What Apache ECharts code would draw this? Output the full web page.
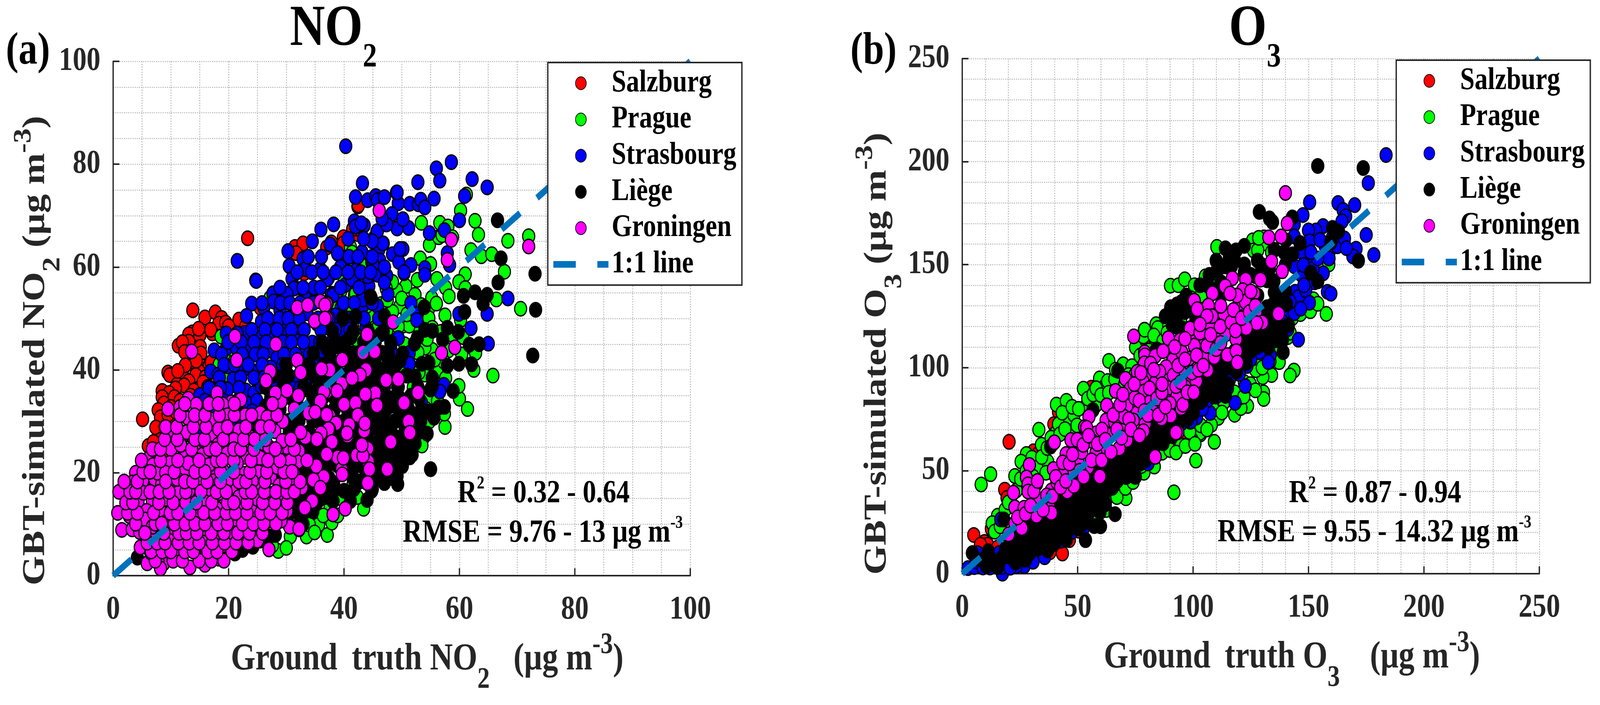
<!DOCTYPE html>
<html><head><meta charset="utf-8">
<script src="https://cdn.jsdelivr.net/npm/echarts@6/dist/echarts.min.js"></script>
<style>html,body{margin:0;padding:0;background:#fff;overflow:hidden}#c{width:4907px;height:1804px;transform-origin:0 0}</style></head>
<body><div id="c"></div>
<script>
const cities=['Salzburg','Prague','Strasbourg','Liège','Groningen'];
const cityColors=['#ff0000','#00ff00','#0000ff','#000000','#ff00ff'];
const lineName='1:1 line';

const salzburgNO2=[[13.8,51.6],[15.9,50.2],[17.7,51.2],[18.8,50.1],[18.3,49],[19.5,49.2],[17.2,47.1],[21.8,49.8],[13.7,47.3],[13.1,46.9],[15,46.7],[11.3,44.7],[13.1,45.5],[15.1,44.5],[15.2,43.2],[13.3,42.2],[13.7,41.7],[15.4,40.7],[16.6,40.7],[14.9,39.7],[14.3,39],[9.5,39.5],[9.8,39],[12,39.5],[17.5,39],[16,38.6],[13.1,37.8],[11.1,37.2],[12.3,37],[10.8,36.4],[8.5,35.9],[9.7,35.5],[8.5,34.7],[8.8,33.5],[10.6,34.7],[7.8,32.2],[8.2,30.8],[5.1,30.4],[7.4,28.8],[10,30],[10.8,30.4],[9.7,27.7],[8.2,26.4],[6.1,25.2],[11.4,28.1],[3,14.3],[18.6,37],[25.5,52.1],[24,47],[6.2,22.7],[42.4,71.8],[41.8,67.4],[42.4,66.4],[39.9,65.6],[39.8,64.5],[45.2,65.6],[37.8,64.8],[40,61.7],[23.3,65.6],[31.5,63.9],[32.9,64.6],[31.7,62.7],[37,63.8],[39.9,65.8],[39.9,64.6],[42.5,72],[42.5,67.4],[41.5,67.4],[45.3,65.4],[39.9,61.5],[33.1,58.8],[16.9,47.8],[14.8,48],[12,45.4],[12.4,43.5],[14.4,41.8],[12.5,40.9],[11.2,39.8],[14,36],[15.6,37.6],[16.4,36.7],[13.4,35],[11.6,34],[12,32.5],[10,32.8],[9.5,31.3],[10.9,31.8],[12.1,30.2],[9,28.9],[11,26.4],[8.8,24],[7,26],[9.7,25.9],[17,41.5],[18.7,40.5],[20,48.5],[23,48.5],[22.6,45],[19.8,46.5]];

const pragueNO2=[[61.2,74.1],[60.2,71],[53.4,68.6],[56.6,68.6],[58,67.9],[62.7,69],[63.3,66.3],[68.4,65.1],[72,66],[54.8,64.3],[56.4,65.8],[57,66.2],[58.8,65.8],[62,63.3],[63.8,62.1],[65.6,62.5],[67.8,59.1],[66.4,53.7],[70.6,51.9],[53.2,61.7],[55,60.6],[41.1,63.9],[41.4,62.8],[41.2,60.2],[43,60.4],[61,58.6],[59.9,57.1],[56.1,57.7],[57.6,56],[58.2,54.3],[61,55.9],[52.7,57.5],[50.7,56.3],[49.1,55.5],[48.4,57.1],[52.3,54.6],[55.2,54],[54.6,51.7],[54.7,50.1],[49.7,52.4],[57.5,50.6],[60.2,49.7],[45.3,50.1],[44.7,50.9],[48.4,51.3],[50.2,48.6],[51.3,48.6],[55.3,48.2],[62.3,44.3],[62.8,43.3],[55.3,43.9],[54,44.3],[56.5,39.8],[62.5,40],[65.8,38.9],[54,39.1],[60,34.4],[61.4,32.4],[57.5,28.9],[52,27.1],[53.8,26.9],[53.5,25.3],[54.8,30],[57.4,31.5],[41.5,48.6],[42.4,46.6],[46.7,42.8],[48.4,43.1],[46.8,22.2],[49.3,21.8],[54.8,34.6],[41.8,54.4],[47.3,55.9],[46.4,52.8],[27.2,54],[18.7,46.5],[20.3,41.5],[20,39],[16.3,36.2],[11.8,29.7],[13.4,26.2],[14,24.6],[7.8,24.1],[28.6,4.8],[33.5,7.6],[37.1,7.9],[35.6,9.9],[37.9,10.3],[30.7,7.6],[26.1,7.2],[43.4,13],[42.3,15.3],[39.7,14.9],[37.6,13.4],[34.8,12.6],[42,54.8],[41.1,52.1],[41.4,47.9],[44.3,50.6],[42.8,21.5],[47.5,53.6],[46.3,50],[50,53.9],[53.4,52.6],[56,52.9],[50.9,50.8],[53.2,47.6],[56.8,47.4],[58.8,46.8],[60.6,46.4],[49.4,48.4],[47.4,47.6],[45.4,46.8],[44,45],[50.5,45],[54.4,46],[58.1,43.8],[60.4,43],[57.3,41.6],[52.8,43.4],[55.7,42],[50,41],[53,39.5],[57.6,38.4],[59.9,36.9],[52,36.6],[56.2,34],[51,33],[54.2,32.4],[52.8,29],[50.6,28.6],[49.1,24.3],[46.9,24.6],[44,23.7],[44.5,19.3],[46.3,18.9],[41.6,18],[44.8,16.5],[36.4,11.7],[34,9.9],[32.2,9],[30,5.4],[27.6,5.9],[34.9,8.4],[38.9,11.7],[20,44],[18.4,41.1],[19.2,43],[16.5,30],[14.7,29.4],[13,24.7],[12.2,27.4],[40,58],[39.4,55.2],[38.4,52.6],[36.5,45],[42,42.7],[44.4,40],[46,48.6],[42.1,46],[43.9,52.4]];

const strasbourgNO2=[[43.2,76.3],[42,73.6],[44.1,73],[45.5,73.8],[45.8,73],[47,73.6],[49.1,74.5],[49.4,72.4],[51.4,72.3],[52.9,72.2],[53.3,73.1],[54,71.6],[55.6,73.3],[52.8,76.5],[56,79.2],[56.6,76.8],[58.6,80.4],[62.2,77.1],[64.8,75.5],[60.9,73.8],[60,69.1],[54.8,66.6],[57.4,67.2],[48.3,70.3],[50.2,69.3],[47.3,68.3],[49.2,67.5],[51.2,67.6],[41.8,68.9],[42,67.9],[43.5,68.1],[43,68.5],[45.7,66.9],[46.8,64.6],[38.2,68.3],[46,63.3],[43.1,62.9],[48.4,62.5],[49.7,63.5],[50.2,63.5],[49.5,61],[51.6,60.4],[50.4,58.8],[54,59.8],[54,58.5],[44.8,61],[42.1,59.4],[44.1,58.6],[45.8,58.5],[47.4,58.3],[41.2,57.9],[39.5,59.8],[38.9,62.6],[37.6,64.3],[40.2,56.5],[37.3,57.9],[43.1,55.2],[44.3,56.3],[47.6,54.7],[43.2,52.4],[45.8,52.4],[51.6,53],[52.6,50.9],[52.6,49.7],[57.9,62.7],[58.3,60.4],[59.9,50.9],[64.8,50.9],[68.4,53.9],[62,48.1],[65,45.1],[43.8,48.2],[49.4,46.2],[48.1,44.3],[51.3,43.3],[51.3,41.2],[57.3,37.1],[56.6,35.8],[53.4,33.7],[48.4,22.6],[38,54.8],[39.5,52.1],[37.6,48.2],[36.9,50.5],[39.2,45.1],[48.4,42.8],[45.3,42],[40.3,83.5],[21.5,61.2],[24.7,57.4],[30.3,63.1],[34.5,65],[36,67.3],[32.9,61.6],[30.5,60.2],[37.6,64.4],[38.9,62.7],[33.3,59.6],[35.9,59.6],[37.1,58],[39.4,60],[31,57.7],[31.5,55.9],[34.7,55.7],[37.8,54.6],[27.7,54.9],[30,54.6],[41.3,57.8],[44.1,58.2],[46.2,61.3],[46.7,64.6],[45.8,67],[49.7,63.5],[50.4,59],[47.4,68.3],[50.2,69.3],[49.2,74.5],[24.8,57.3],[24,52.9],[23.1,50.5],[27.7,54.8],[27.8,53.3],[28.9,51.6],[31.3,55.8],[30.1,54.8],[33.2,54.1],[34.8,56],[37.1,57.6],[41.4,57.6],[38.1,54.5],[43.3,53.7],[25.7,49.4],[27.6,48.6],[30.1,48.3],[29,47.1],[31.9,46.3],[34.5,45.3],[36.8,48.3],[22.8,47.2],[19.6,47.1],[17.5,43.8],[19.6,44.2],[21.4,44.2],[23.8,44.7],[25,43.4],[27.6,43.6],[28.4,42.4],[31,42.4],[33.3,43.2],[34.9,43],[39.4,44.4],[19.9,40.7],[16.9,39.7],[18.2,39.1],[20.8,38.2],[22.6,40.1],[24.9,39.7],[27.3,40.5],[23,36],[24.4,35.5],[25.7,36.8],[28.4,37],[30.7,38.6],[15,35.1],[19.8,36.2],[17.5,33.9],[23.2,33.5],[15.4,32],[15,28.9],[19.5,29.3],[20.9,29.3],[17.6,23.1],[26.1,52.1],[31.3,52.1],[33.6,51],[35.3,49],[38.5,50.6],[40,47.1],[32.2,48.3],[27,46.3],[25.2,46.3],[21.5,47.1],[45,60.5],[47,60],[47,57],[44.9,65],[46.6,69.4]];
const strasbourgNO2Rows=[[65.5,[40.7,43.4]],[62,[33.8,36.1,40.9,42.4,44.9]],[59,[31.9,34.4,36.4,38.6,40.7,42.9,44.6]],[56,[28.9,32.9,35.9,39.4,42.6]],[53,[25.8,29,30.6,32.4,34.7,37.1,39.9,41.8,44.9]],[50,[26.8,28.8,30.3,32.3,35.5,37.4,40.8,43.5,46]],[47.8,[24,26.3,28.4,30.9,33.1,36,38.5,41]],[45.4,[19.9,22.2,24.4,26.5,29.4,30.9,33,35.8,37.9]],[43,[18.8,22.4,24.6,26,29.6,31.6,34,36.3]],[41,[19.2,21,23.4,25.8,29.4,30,32.6,35.6,37.4]],[38.5,[18.4,22.1,24.4,26.2,28.6,31.8,33.8]],[36.5,[16.6,18.6,21.8,26.7,27.8,30.9,32.4]],[34,[15.9,19.1,21.6,24.9,27.7]],[32,[17,18.8,21.4,24.1]],[30,[16.2,18.3,22.6]]];

const liegeNO2=[[66.6,69.1],[67.2,61.7],[66.7,57],[73.1,58.7],[73.2,51.7],[72.7,42.8],[55,20.7],[60.7,54.4],[62.7,55.1],[64.8,54.6],[64.1,52.9],[60.9,51.3],[61.7,44.9],[63.4,45],[62.1,41.1],[59.9,41.2],[57.9,40.8],[54.7,41.4],[53.5,41.2],[52.2,45.1],[52.7,46.2],[54,47.8],[55.3,47.6],[57.9,48.2],[59.8,47.4],[57.1,45.9],[53.9,52.2],[44.7,54],[39.8,50],[42,50.4],[47,50.5],[46.3,46.9],[41.2,46.4],[37.5,44.1],[39.5,44.3],[46.6,43.3],[49.7,41.8],[55.3,38.5],[55.3,36.9],[55,36.2],[52.3,38.7],[58.9,35.9],[57.4,32.8],[56.4,32.7],[54.7,31.9],[55.6,30.7],[54.4,27.6],[51.4,23],[48.4,21.8],[46.1,21.4],[47.3,40],[45.5,38.1],[49.3,36.6],[51.6,35],[48.4,33.1],[45.5,31.1],[49.9,30.3],[52.2,31.1],[47,28.4],[49,26.9],[50.4,25.3],[45.5,25.7],[43.5,32.7],[41.2,34.2],[38.6,33.1],[39.8,38.9],[41.8,42],[43.8,42.8],[37.7,30.7],[47.8,23.8],[43.2,27.2],[39.8,24.5],[37.5,27.2],[41.5,30.3],[45,28.8],[46.7,35],[51,38.9],[44.4,38.1],[4.2,3.5],[29.6,38.8],[26.4,32.9],[27.8,32.8],[21.8,31.6],[23.8,30],[25,28.5],[37,44.2],[39.8,50.1],[42,50.5],[41.1,46.3],[44.6,54.3],[39.4,45],[41.4,43.2],[31.3,28.9],[33.3,39.3],[33.6,36.2],[34.5,40.1],[37.1,37],[40.5,37],[42.6,35.5],[32.7,25.8],[35.3,25.8],[38.5,27.7],[42.8,27.7],[34.2,23.8],[36.5,21.9],[40.8,20],[38.8,21.5],[35.3,20],[29,18.8],[31.9,15.3],[31.6,13],[33,12.2],[36.2,16.9],[38.2,18],[40,16.5],[36.8,15.3],[42.3,18],[44,14.7],[43.1,18.4],[28.1,7.9],[27,7.6],[24.2,5.6],[21.1,4.3],[22.4,5],[25.5,6.8],[19.8,4.5],[32.4,10.3],[30.1,11],[44.6,35.5],[44,31.6],[44.3,25],[49.3,17.8],[49.2,19.4],[48.5,21.7],[50.3,24.8],[47,18],[45,20],[46,24],[48,26],[44,18]];
const liegeNO2Rows=[[10,[30.4,32.9]],[12.5,[31.1,34.6]],[14.5,[30.7,33.4,35.5,38.1,41.1]],[16.8,[31,33.6,34.2,38.4,41.7,44.9]],[19,[30.1,32.6,34.3,37.4,41.6,43.7,46.4,48]],[21.3,[29.6,33.2,34.6,37,39.1,41.5,43.2,45.9,47.3,50.1]],[23.5,[29.4,33.4,35.4,38.7,41.1,45,46.9,49.4,51.8]],[25.7,[30.9,34.2,36.2,39.3,41.2,43,46.9,49.3,52.3]],[27.9,[30.5,33.9,36.6,39.2,41.9,44.1,46.2,48.2,50.6,52.9]],[30.1,[30.4,32.2,34.6,36,38.6,40.1,42.4,44.6,47,48.9,51.3,53.3]],[32.3,[28.9,32.9,36.3,38.3,40.6,42.4,44.5,47.3,49.6,51.2,53.4]],[34.5,[27.3,30.9,34.6,36.3,38.4,40.4,42.6,44.3,47.9,49.7,53]],[36.7,[26.4,29.4,33,35.6,38.1,40.6,42.8,44.9,47,49.4,52.8]],[38.9,[27.7,30.4,34.8,36.6,38.1,41,43.4,45.7,48.6,50.8]],[41,[29.9,33.9,36.4,38.6,41.1,43,45.4,47.6,49]],[43.2,[34.7,37.6,40,42.5,44.9,47.7,50.2]],[45.4,[36.2,38.4,40.2,43.4,45.4,48.1]],[47.5,[38,41.6,44.2,46.8]]];

const groningenNO2=[[46.1,71],[58.6,65.3],[57.9,61.4],[72,64],[43.9,46.9],[48.5,49.3],[43.3,43.3],[45.3,43.6],[59.2,44.4],[56.9,43.3],[39.8,42],[43.8,40],[42.8,38.9],[41.4,38.6],[47.3,38],[49.4,38.2],[39.6,37.3],[38.8,35.8],[43.6,35.2],[45.4,35.5],[52.8,35.6],[50.4,33.6],[41.9,33.5],[39.9,33.3],[45.7,33.1],[51.2,30],[42.4,31.3],[37.5,31.1],[43.6,29.6],[40.9,29.4],[51.4,27.8],[43.5,28.2],[38.6,29.6],[37.5,28.4],[40.6,27.2],[48.1,26],[38,25.9],[43.1,25.3],[44.1,24.7],[42.1,23.5],[39.8,23],[43.2,23.2],[37,23.8],[38.9,23],[44.2,22.2],[44.4,20.7],[47.5,20.7],[39.6,20.7],[37,52.8],[37,50.1],[37.5,40],[37,35.8],[31.9,52.1],[33.7,52.6],[35.9,53.3],[36.7,52.6],[34.9,49.5],[36.7,50],[21.1,46.5],[13.6,43.6],[21.4,41.9],[28.2,45],[27.2,39.7],[26.5,37.9],[31.9,41.9],[32.5,39.5],[36.1,40.2],[39.7,42],[43.3,43.4],[44,46.9],[43.8,40],[42.8,39],[41.4,38.4],[38.8,35.9],[36.5,35.7],[35.9,33.9],[43.7,35.3],[40,33.3],[42,33.6],[33.9,31.6],[35,31.8],[37,31.3],[42.4,31.2],[43.6,29.6],[40.9,29.3],[40.5,27.7],[37.3,28.5],[36,27.7],[37.9,26],[33.3,26.9],[32.5,27.9],[35.3,26.5],[37,23.6],[39.9,22.9],[42.2,23.4],[43.3,23.3],[43.1,25.4],[35.2,21.3],[36.5,19.2],[39.7,19.7],[34.7,18.6],[35.9,17.1],[32.7,17.1],[34.5,14.5],[33.2,13.2],[38.1,11.9],[40.2,13],[44.1,18],[30.6,9.5],[32.2,9.1],[27,5.1],[29.1,33.9],[30.1,36],[28.1,35.5],[32.1,35],[31.4,32.4],[29.4,30],[26,30.2],[27.3,29.7],[28,28.1],[22.9,31.2],[22.1,34.2],[20.5,33.7],[19,33.3],[18,35.5],[19.8,31.2],[21.8,28.3],[23.8,26.9],[20.9,26.4],[17.6,27.3],[16.9,30.4],[15.3,29.7],[13,34.4],[14.4,33.3],[11.6,32.8],[9.5,32.4],[13,30.6],[12.7,27.9],[10,27.5],[10,24.6],[12.3,24.3],[15.5,25.4],[18.2,25.5],[19.8,23.8],[23.6,23.7],[25.8,25.8],[27,25],[30.1,25],[25.5,22.9],[32.2,24.2],[31.9,22.1],[30.7,22.3],[31.3,20],[31.6,18.4],[28,20.9],[25.2,20.1],[22.7,19.8],[19,20.5],[20.2,18.8],[15.6,23.6],[13.6,22.5],[9.8,21.9],[6.4,23.1],[6.9,21.5],[3.9,20],[3.3,18.1],[6.1,18],[7.2,18.8],[8.4,17.8],[10.3,18.6],[12.3,20.2],[15,18.6],[16.2,16.7],[14.3,16.1],[11.4,16.2],[9,14.9],[6.8,14.5],[4.3,14.4],[1,16.3],[0.8,12.2],[2.8,11.6],[5.8,12.6],[8.2,12.5],[5.5,10.9],[1.5,8.9],[3.3,9],[4.6,8.5],[4.7,5.5],[5.9,2.4],[7.5,8.3],[10.5,8.8],[13.4,9.7],[15.8,8.3],[14.8,12],[12.3,13.4],[18.8,15.9],[21.4,16.7],[24.5,16.1],[27.4,15.9],[29.3,15.5],[30.1,12.6],[27,10.7],[24.2,12.8],[21.6,10.8],[20.2,11.8],[16.9,11.4],[19,13.4],[22.8,7.4],[20,7.6],[18.3,8.5],[25.1,9.7],[17.2,3.9],[14.1,4.6],[12.9,5.8],[11.1,5],[9.7,3.9],[8.7,2.3],[7.8,2.7],[8.2,1.4],[13.3,1.6],[15.9,2.1],[18.3,3.3],[18.6,5.6],[6.5,4.5],[9.7,6.8],[15.6,6.4],[16.6,10.7],[11.7,11.8],[9.4,10.7],[13.1,16.5],[17.5,19.6],[16.6,21.5],[21.8,15.3],[18,13],[25.5,17.6],[27.3,19.2],[28.8,17.6],[22.7,23.1],[21.5,21.9],[28.4,21.1],[24.1,18.4],[27,13.8],[22.7,13],[25,14.9],[28.4,12.6],[29.1,10.7],[25,6.8],[29.3,26.2],[28.4,24.2],[25.5,31.6],[26.7,30.8],[18.3,28.5],[15.7,26.2],[11.7,25.4],[7.7,20],[5.1,18.4],[13,21.9],[9.1,20],[11.1,18.8],[17.5,18.4],[15.7,14.5],[6.8,9.5],[5.2,16.1]];
const groningenNO2Rows=[[2.9,[7.3,10.4,12,14.9,17,19.2]],[4.7,[6.6,8.5,10,12.4,13.9,16.4,18,20.6]],[6.4,[5.9,7.6,9,11.3,13.2,14.9,17.2,19.3,21.3,23.4]],[8.3,[5.5,8.8,11.4,12.7,14.5,17,19.2,21.6,23.6,25.9]],[10.1,[3.9,7.3,8.4,10.6,12.5,14.2,15.9,18.2,19.8,22.4,24.3,26.1,28.2]],[12.2,[2.5,4.2,7,9.9,11.2,13.3,15.7,17.6,19.6,21.2,23.2,25.6,27.2,29.3]],[14.2,[2.2,3.4,7.9,10.4,12.6,14.4,17.1,19.8,20.9,23.2,25.9,28,30.2]],[16.3,[2.9,3.9,6.4,8,9.7,12.6,15.2,17.9,19.6,22.9,24,26.2,28.2,30.1,31.4]],[18.3,[1.9,4.2,9.1,12.4,13.8,16.3,18.6,21.8,23,26.3,29.9,32.4]],[20.2,[5.2,6.4,10.6,14.2,15.9,18.6,20.9,23.7,26.6,29.6,31]],[22.4,[4.9,8.2,11.2,14.9,17.9,18.9,20.9,23.9,26.8,28.9,33.6]],[24.6,[6.8,8.2,13.6,16.7,17.8,20.9,22.1,24.4,28.1,31.4]],[26.5,[8.9,11.1,14.2,15.8,19.1,22.6,24.5,26.4,30.8]],[28.9,[9.1,11,13.9,16.1,19.8,23,25.6,27.1]],[31.2,[11.6,14.1,15.9,18.4,21,24,28.4]],[33.4,[12.4,16.6,18.2,21,27.6]]];

const salzburgO3=[[20.3,64],[5,18.8],[9.6,15.4],[11,14.1],[7.9,14.1],[12.6,21.8],[18.4,40.8],[19.4,36.8],[43.4,9.8],[38,10.4],[31.6,8.2],[46.4,16.3],[50.5,20.9],[55.9,90.3],[41.7,78.5],[39.7,72.6],[30.9,59.4],[32.9,58.1],[59.3,37.2],[15.3,12.7],[36.3,13.6],[82.2,117.5],[78.9,110.7],[95.7,67.2],[61.3,84.4]];

const pragueO3=[[8.2,43.3],[12.3,48.3],[33.2,69.9],[34.3,62.6],[40.8,82.1],[45.1,83.9],[52.5,89.8],[59.5,94.8],[63.5,103.3],[62.3,91.7],[63,93.5],[69.7,101.6],[73.5,100.7],[78.9,118.4],[75.1,109.8],[83.9,112.5],[83.9,120.7],[86.3,119.8],[89.7,120.7],[78.5,115.2],[22.8,47.4],[27.8,58.1],[25.5,54.4],[30.2,56.3],[32.9,51.7],[20.7,33.6],[15.3,28.1],[13,24.5],[14,20.4],[45.8,74.4],[48.4,77.1],[40.7,68.5],[41.7,72.6],[47.1,68.1],[53.2,80.8],[57.9,81.7],[37,54.4],[36.3,49],[70.9,36.6],[91.7,39.5],[78.7,49],[68.5,44],[64.3,43.6],[101.2,54.9],[94.4,61.7],[99.5,64.9],[89.7,63.5],[98.5,69.4],[62.3,30.9],[57.2,28.1],[103.2,67.6],[110.3,158.6],[125.8,161.8],[126.2,156.9],[130.8,163.2],[131.6,160.3],[90.2,139.8],[93.6,140],[96.4,142.9],[100.6,140],[105.3,144.3],[109.2,144.3],[99.1,133.7],[92.3,126.9],[79,118.4],[84,121.1],[84.7,119.2],[89.4,120.1],[84,112],[148.8,127.9],[152.1,133.2],[157.7,126.1],[143.7,98.6],[142,96.2],[130.5,88],[130.6,84.8],[118,77.1],[123.6,81.4],[120.7,80.4],[110.9,75.6],[107.9,72.2],[109.2,64],[102.9,68.3],[99.5,65],[94.5,62.5],[98.5,68.8],[90.1,65],[134,96.4],[130.2,95.4],[137.3,102.7],[127.2,98.8],[141,114.8],[120,85.3],[115.7,94],[122.2,93],[139.5,119.2],[128,104.6],[113.5,83.4],[158.8,150.1],[16.5,23],[18.6,31],[20,34.6],[23.4,40.3],[25.3,46],[27.7,49.8],[30.8,47],[34.4,56.6],[36.8,61],[38.5,66],[42.3,67.7],[44.5,70.2],[43.3,78.1],[47.6,81],[50.4,80],[49.7,72],[54.4,85],[56.7,87],[58,90],[60.1,86.7],[63.4,87.8],[66.1,94.5],[66.4,99],[70.4,92],[72,96.4],[74.9,96.7],[77,105.8],[80.8,108.3],[83,115.6],[87,113],[88.8,117],[94.6,123.5],[97.6,133],[103.5,135],[107,141],[111,148],[115,149],[128,157],[128.4,163],[134,156],[50,27.3],[53.8,30],[56,32],[60.8,37],[64.3,38],[67,37.2],[70.7,41.6],[74,44.5],[77.7,52.3],[83.2,52],[86.6,58.7],[90,60],[92.6,58.8],[96.7,62],[100.8,63],[103.3,72],[106,70],[108.8,79.7],[112.5,78.2],[113.6,87],[118,88],[122,86],[124.8,92],[127,89],[130,100],[133.3,103],[136,110],[138.6,113],[142,117],[143,124],[146.5,126],[150.8,127.4],[154,131]];

const strasbourgO3=[[183.6,203.2],[175.9,189.6],[150.5,180.3],[147.6,174.1],[162.8,179.9],[165,176.5],[170,178.9],[166.1,173.4],[164.5,171],[156.3,168.7],[153.2,166.6],[150,166.6],[150.4,161.3],[143.8,169.5],[143.8,163.7],[175,164.4],[178.3,154.7],[170.6,157.7],[169.2,154],[157.1,159.3],[158.9,156],[158.9,153],[162.5,158.9],[147.1,156],[150.3,151.1],[156.4,145.8],[146.7,145.3],[152.6,141.4],[143.9,149.2],[144.2,136.8],[145.6,134.2],[148.8,137.6],[150.4,131.5],[158.2,136.8],[159.7,135.9],[135.5,131.8],[141,125.9],[143.8,126.4],[145.6,113.6],[141,118.7],[136.2,123],[133.4,106.1],[132.6,102.7],[128.7,107.5],[123.6,108.5],[122.6,91.1],[123.3,100.8],[118.2,82.9],[107.4,78],[101.4,75.9],[98.8,73.7],[112.8,92.1],[109.2,92.1],[117.2,96.9],[106.3,84.3],[96.7,77.5],[101.5,75.8],[99.1,74],[96.4,77.1],[99.8,82.6],[93,73.5],[80.5,53.5],[72.1,49],[57.9,39.9],[51.1,36.3],[52.2,21.3],[46.1,24.5],[41.7,19.1],[16.7,26.3],[25.5,15.4],[26.1,10.9],[17.4,0],[2.5,2.7],[5.2,3.2],[26.8,3.6],[23.4,3.6],[18.7,5.9],[16,10],[6.6,10],[33.6,10],[63.3,44.5],[82.2,67.2],[86.3,72.6],[6,6],[9,3],[12,3],[17.2,3.2],[20.8,2.9],[22.9,8],[30.7,5.8],[35.7,8],[38.8,16.1],[42.7,16],[47.4,20.2],[60,41],[65,42],[75,47],[85,64],[90,69],[95,73],[104,80],[110,86],[114.9,90],[120,97],[125,104],[129,111],[133,115],[139,122],[142,132],[146.6,128.6],[148,140],[152,148],[154,153],[147.8,149.8],[151,156],[155,162],[160.3,163],[165.6,162.7],[166.4,158]];

const liegeO3=[[154,197.9],[173.7,196.9],[128.7,175.6],[133.1,172.4],[134.4,170.7],[143,172.9],[160.4,167.8],[163,166.1],[159.7,160.8],[146.3,160.5],[140.2,161.8],[114,157.9],[118.6,156.9],[122.2,159.1],[115.7,153],[110.4,147.2],[113.5,149.2],[122.2,150.1],[127.9,152],[135.2,157.2],[139.5,156],[143.1,155],[171.6,151.9],[151,146.1],[154,141.9],[106.7,139.5],[112.1,141.4],[94.9,131.8],[91.7,129.3],[97,127.9],[91.6,120.1],[95,119.2],[112.1,134.7],[132,142.4],[135.2,136.6],[132,129.3],[137.5,131.8],[140.5,130.8],[141.3,120.6],[134.4,120.1],[134.4,114.3],[136.2,113.4],[139,107.5],[127.9,114.3],[123,111.4],[123,102.2],[114,86.3],[112.1,96.9],[106.3,93],[103.3,83.3],[99.2,87.2],[84,108.5],[85.8,63.8],[79,64],[122.2,146.3],[116.6,149.2],[127.2,144.3],[133.7,125],[110.8,101.7],[113.5,103.7],[109.2,90.1],[102.8,91.1],[95.7,81.4],[91.8,75.6],[84.6,70.8],[66.2,28.9],[57.2,23.1],[59.9,23],[53.4,16.3],[45.1,16.5],[4.4,10],[11.3,10.9],[10.6,3.6],[15.3,3.2],[18.7,11.8],[18,26.3],[23.1,5.4],[27.5,6.8],[37,11.3],[32.9,23.6],[28.2,17.2],[35.6,19.1],[39.7,18.1],[43,26.3],[48.4,29.9],[51.1,29.9],[55.2,38.1],[58.9,32.7],[60.6,42.6],[66,49],[70,49.9],[74.1,49.9],[78.2,59],[85.6,64],[82.2,67.2],[82.9,70.8],[72.8,57.2],[67.4,56.3],[60.6,45.4],[53.9,36.3],[45.7,34.5],[49.8,25.4],[41.7,30.9],[32.2,21.8],[30.2,14.5],[24.1,10.9],[39,25.4],[45.7,20.9],[67.4,98.5],[56.6,79.4],[32.2,43.6],[32.9,30.9],[38.3,61.7],[93,130.7],[90.3,129.3],[91,120.7],[84.3,108.9],[98.4,88],[100.2,86.2],[95.7,87.1],[84.9,72.6],[102.5,126.1],[101.2,124.3],[96.4,127],[93,119.8],[103.2,88],[8.4,6.6],[12.2,7.4],[13.8,5.1],[17,7.5],[20.6,8.2],[22.6,12.8],[25.4,7.8],[26,13],[29.2,9.8],[29.8,20],[31,17.2],[33,12.4],[34,15.6],[34.8,25.4],[36.5,15.9],[37.2,21.6],[38.6,13.9],[40.2,15],[40.7,23.8],[42,28.5],[43,21.6],[44,33],[44.9,26],[46,29],[47.7,23.6],[47.8,33.4],[49.5,28.7],[50.6,32.8],[51.2,38],[52.5,27],[53.7,33],[55,29.9],[56.2,35.2],[57.6,40],[58.8,36.5],[59.7,29.9],[61.4,38.4],[62,33.7],[62.9,46.7],[64.2,47.3],[65,41.7],[66.3,52.4],[67.1,45],[68.5,49.4],[69.6,54],[71,46.9],[71.7,53.2],[73.6,53.9],[74.9,47],[75.4,59.5],[76.8,53.2],[77.8,62.7],[79.4,55],[80.5,64.2],[81,58.7],[83,61],[84.1,68.5],[86.1,69.4],[87,63.3],[88.5,74],[90.2,71.5],[91,66.8],[92.7,78.8],[93.5,72.6],[95.2,76],[96.7,80.5],[97.5,74.8],[99,85],[100.2,78],[101.6,83],[103,90],[104.2,85],[105.6,89.4],[106.7,99],[108,95],[109,86],[110.5,106],[111.3,92],[112.5,89],[113.4,99],[115,92],[116.5,100],[117.6,103],[118.8,98],[119.6,106],[121,111],[122,104],[123.7,114],[125,108],[126.3,117],[127.6,110],[129,120],[130.4,113],[131.6,118],[132.8,110],[134,130],[135.3,125],[136,117],[137.6,120],[138.8,114],[140,137],[133,148],[128,135],[125,128],[129.5,150],[125,145],[135,142],[140,150],[118,152],[110,152],[107,145],[103,140],[97,135],[93,125],[88,125],[110,118],[35,30],[38,33],[40,34],[42,37],[45,41],[47,38],[48,44],[50,43],[52,40],[54,46],[56,44],[58,49],[60,50],[62,52],[64,55],[66,57],[68,52],[70,60],[72,62],[74,58],[76,65],[78,68],[82,72],[86,76],[90,80],[94,84],[98,88],[30,25],[28,22],[25,18],[22,17],[20,18],[36,24],[39,29],[41,33],[43,36],[37,28],[33,27],[30,12],[27,10],[44,20],[50,22],[52,24],[48,37],[55,42],[61,47],[65,50],[69,56],[73,59],[77,60],[81,68],[85,72],[89,77],[93,80],[97,83],[102,86],[106,92],[110,97],[114,102],[118,108],[122,113],[126,120],[130,125],[112,108],[108,103],[104,95]];

const groningenO3=[[140,184.8],[140.8,170],[132.8,163.2],[138.1,163.7],[134,151.6],[138.6,146.8],[117,143.4],[122.8,142.7],[129.2,142.7],[113.9,139.5],[108.4,136.1],[100.4,132.5],[102.2,128.1],[106.6,130.1],[126.4,136.1],[121.5,137.6],[120,131.3],[122.6,132],[137,126.2],[110.7,125],[113.5,125.9],[127.2,126.9],[130,121.9],[127.6,121.6],[119.7,119.2],[98.8,119.2],[106.7,120.6],[115,119.2],[123,119.2],[105.4,115.3],[89.3,114.3],[94.3,112.9],[100.2,112.9],[110.3,115.3],[114.3,116.3],[118.6,113.8],[104.5,110.5],[83.7,106.1],[91.2,103.9],[98.1,104.4],[95,107.1],[105.3,106.1],[114.9,106.1],[118.7,108],[119.2,102.5],[109.2,105.1],[106.2,98.8],[79.3,102.2],[81.9,96.9],[88.6,94.8],[101.2,93.8],[96.3,99.8],[88.4,99.8],[79,107.5],[90.2,88.2],[84.7,89.6],[79.7,89.2],[90.2,82.4],[93.7,86.3],[80.8,83.4],[85.5,80.4],[90.2,76.6],[79.3,72.7],[93.4,68.6],[94.9,80.4],[98.4,93],[77.9,86.3],[74.3,115.2],[89.3,114.3],[94.4,113.4],[98.8,119],[100.5,132.5],[101.8,128.4],[79.1,106],[83.6,105.7],[78.9,102.1],[75.8,98],[81.9,97.1],[70.7,94.6],[91.4,103.9],[98.1,104.4],[95.1,107.5],[100.5,110.7],[88.7,94.4],[101.4,93.5],[88.3,100.3],[78.2,93.5],[72.8,89.8],[66.4,88.7],[78.9,88.5],[90.3,90.3],[93,86.2],[80.9,83],[90,82.6],[66.6,79.4],[62.6,81.7],[71.4,81.7],[75.8,78],[90.3,76.7],[86.3,75.3],[62.3,74.4],[54.9,76.2],[79.2,72.6],[70.6,71.5],[78.5,69.2],[92.6,68.5],[53,71.2],[57.9,68.1],[63.6,67.2],[56.2,64.4],[71.3,64.9],[68,60.8],[61.3,59.9],[48.1,61.3],[47.1,64.9],[39.9,63.8],[45,58.1],[57.9,58.5],[50.1,55.4],[59.6,47.2],[83.6,56.7],[54.5,51.7],[39.5,50.8],[44.4,49.5],[48.4,49.9],[29.1,52.8],[27.8,46.7],[28.5,43.4],[28.5,39.9],[38.6,40.4],[45.5,39.9],[48.4,42.6],[41,44.5],[22.2,39.3],[32.6,36.3],[22.8,32.2],[26.8,32],[37.6,32.2],[32.2,28.1],[38.6,29.5],[22.8,24.5],[25.8,22.1],[20.1,19.1],[86.3,83.5],[83.6,92.6],[95,97.1],[74.1,74.4],[66,73.5],[74.8,85.3],[70.1,76.2],[82.2,79.9],[96.4,90.7],[51.8,59],[53.9,70.8],[24,27.3],[27.4,29],[29.6,33],[31,40],[32.6,45],[35,31],[36.6,38],[39,37.5],[40.5,47],[42.6,42],[44.9,45],[43.5,54],[46.4,53.5],[47.8,57.9],[51,50],[52.6,47],[49.8,65],[52.4,62.5],[54.7,67],[56,55],[58.6,63],[60.5,70],[60.4,55],[62,65],[64.4,59],[65.4,77],[67,70],[69,66],[68.4,82],[69.6,87],[72.2,75],[73.1,70],[74.5,92],[76.7,84],[76.8,67],[78.9,79],[80.4,77],[77.4,97.5],[81.1,90],[81.6,102],[84.3,85],[85.5,98],[86.5,88],[85,77],[86.6,92],[88,81],[91.5,96.3],[92.6,91],[93.5,101],[94.6,93],[95.6,82],[96.5,104],[97.5,88],[99.5,97.6],[100.3,88],[101.5,106],[102.3,99],[103,117],[104.4,101],[106,110.6],[107.6,116],[108.2,125],[110,109],[111.8,120],[112,112],[116.5,122],[117.5,128],[118.4,118],[121,124],[124.4,127],[125,137],[127,130],[119,135],[116,136],[112,130],[106,125],[103,121],[96.5,114],[92,110],[87,108],[83,99]];

const lineA=[[0,0],[100,100]];
const lineB=[[0,0],[250,250]];

function withRows(points,rows){
  const out=points.slice();
  rows.forEach(r=>r[1].forEach(x=>out.push([x,r[0]])));
  return out;
}
const FF='"Liberation Serif"';
const INK='#262626';
const base={fontFamily:FF,fontWeight:'bold'};
function mainStyle(size,color){return {...base,fontSize:size,color:color};}
function axisRich(){return {
  a:mainStyle(97,INK),
  s:{...mainStyle(76,INK),padding:[104,0,0,0]},
  u:{...mainStyle(76,INK),padding:[0,0,74,0]}
};}
function makeAxis(kind,grid,max,interval,minor,name,padding,gap){
  return {type:'value',gridIndex:grid,min:0,max:max,interval:interval,
    name:name,nameLocation:'middle',nameGap:gap,nameMoveOverlap:false,
    nameTextStyle:{...mainStyle(97,INK),rich:axisRich(),padding:padding},
    axisLine:{show:true,onZero:false,lineStyle:{color:INK,width:4}},
    axisTick:{show:true,inside:true,length:19,lineStyle:{color:INK,width:4}},
    axisLabel:{show:true,...mainStyle(85,INK),margin:kind==='x'?46:39},
    minorTick:{show:false,splitNumber:minor},
    minorSplitLine:{show:true,lineStyle:{color:'#b9b9b9',width:3,type:[3,3.6]}},
    splitLine:{show:true,lineStyle:{color:'#b9b9b9',width:3,type:[3,3.6]}}
  };
}
function scatter(i,data,g){
  return {name:cities[i],type:'scatter',xAxisIndex:g,yAxisIndex:g,data:data,clip:false,symbol:'circle',symbolSize:37,
    itemStyle:{color:cityColors[i],borderColor:'#000',borderWidth:3.5,opacity:1},silent:true,progressive:0};
}
function oneLine(data,g){
  return {name:lineName,type:'line',xAxisIndex:g,yAxisIndex:g,data:data,clip:false,showSymbol:false,symbol:'none',silent:true,
    itemStyle:{color:'#0072BD'},
    lineStyle:{color:'#0072BD',width:17,type:[70,65],cap:'butt'}};
}
function legend(left,top){
  return {left:left,top:top,orient:'vertical',show:true,selectedMode:false,
    data:cities.concat([{name:lineName,icon:'path://M0,0H69V17H0ZM135,0H169V17H135Z',itemStyle:{color:'#0072BD',borderWidth:0}}]),
    backgroundColor:'#fff',borderColor:INK,borderWidth:4,borderRadius:0,
    padding:[13,17,13,17],itemWidth:169,itemHeight:33,itemGap:12.7,
    textStyle:{...mainStyle(80,'#000'),lineHeight:80,padding:[0,0,0,5]}};
}
function note(text,x,y){
  return {type:'text',z:10,silent:true,style:{text:text,x:x,y:y,align:'left',verticalAlign:'middle',
    ...mainStyle(82.5,'#000'),
    rich:{n:mainStyle(82.5,'#000'),u:{...mainStyle(46,'#000'),padding:[0,0,52,0]}}}};
}
function panelTag(text,x,y){
  return {type:'text',z:10,silent:true,style:{text:text,x:x,y:y,align:'left',verticalAlign:'middle',...mainStyle(116,'#000')}};
}
function heading(m,s,left,top){
  return {text:'{m|'+m+'}{s|'+s+'}',left:left,top:top,padding:0,textStyle:{...mainStyle(149,'#000'),
    rich:{m:mainStyle(149,'#000'),s:{...mainStyle(87,'#000'),padding:[142,0,0,0]}}}};
}
/* The window can be narrower than the 4907 px the figure is laid out for: fit it across the window. */
const host=document.getElementById('c');
if(window.innerWidth<4907){host.style.transform='scaleX('+(window.innerWidth/4907)+')';}
const chart=echarts.init(host,null,{renderer:'canvas',width:4907,height:1804});
chart.setOption({
  animation:false,backgroundColor:'#fff',
  title:[heading('NO','2',889,-38),heading('O','3',3769,-38)],
  legend:[legend(1680,160),legend(4282,154)],
  grid:[{left:347,top:157,width:1770,height:1316,containLabel:false},{left:2951,top:150,width:1770,height:1318,containLabel:false}],
  xAxis:[
    makeAxis('x',0,100,20,4,'{a|Ground\u2009 truth NO}{s|2}{a|\u00a0\u00a0\u00a0(µg m}{u|-3}{a|)}',[0,0,0,156],125),
    makeAxis('x',1,250,50,5,'{a|Ground\u2009 truth O}{s|3}{a|\u00a0\u00a0\u00a0\u2009(µg m}{u|-3}{a|)}',[0,0,0,252],125)
  ],
  yAxis:[
    makeAxis('y',0,100,20,4,'{a|GBT-simulated NO}{s|2}{a|\u00a0(µg m}{u|-3}{a|)}',[0,164,0,0],147),
    makeAxis('y',1,250,50,5,'{a|GBT-simulated O}{s|3}{a|\u00a0(µg m}{u|-3}{a|)}',[0,192,0,0],170)
  ],
  graphic:[
    panelTag('(a)',18,133),panelTag('(b)',2608,133),
    note('{n|R}{u|2}{n| = 0.32 - 0.64}',1403,1264),
    note('{n|RMSE = 9.76 - 13 µg m}{u|-3}',1235,1365),
    note('{n|R}{u|2}{n| = 0.87 - 0.94}',3953,1264),
    note('{n|RMSE = 9.55 - 14.32 µg m}{u|-3}',3734,1364)
  ],
  series:[
    scatter(0,salzburgNO2,0),scatter(1,pragueNO2,0),scatter(2,withRows(strasbourgNO2,strasbourgNO2Rows),0),scatter(3,withRows(liegeNO2,liegeNO2Rows),0),scatter(4,withRows(groningenNO2,groningenNO2Rows),0),oneLine(lineA,0),
    scatter(0,salzburgO3,1),scatter(1,pragueO3,1),scatter(2,strasbourgO3,1),scatter(3,liegeO3,1),scatter(4,groningenO3,1),oneLine(lineB,1)
  ]
});
</script></body></html>
